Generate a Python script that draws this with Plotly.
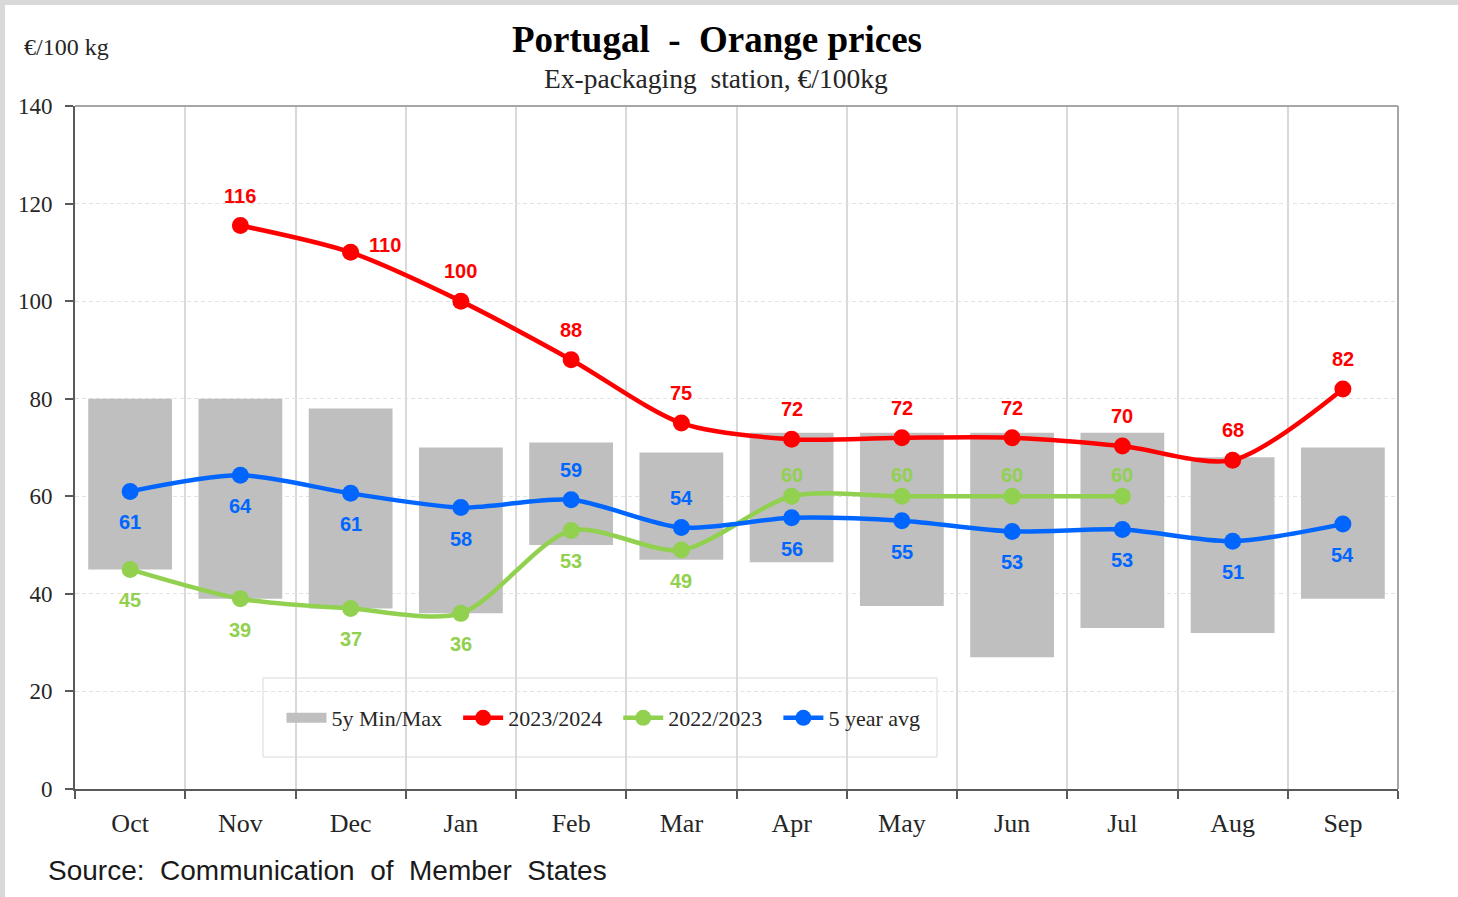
import plotly.graph_objects as go

months = ["Oct", "Nov", "Dec", "Jan", "Feb", "Mar", "Apr", "May", "Jun", "Jul", "Aug", "Sep"]
min5y = [45, 39, 37, 36, 50, 47, 46.5, 37.5, 27, 33, 32, 39]
max5y = [80, 80, 78, 70, 71, 69, 73, 73, 73, 73, 68, 70]
y2324 = [None, 115.5, 110, 100, 88, 75, 71.7, 72, 72, 70.3, 67.4, 82]
y2223 = [45, 39, 37, 36, 53, 49, 60, 60, 60, 60, None, None]
avg5 = [61, 64.3, 60.6, 57.7, 59.3, 53.6, 55.6, 55, 52.8, 53.2, 50.8, 54.3]
lbl2324 = [None, 116, 110, 100, 88, 75, 72, 72, 72, 70, 68, 82]
lbl2223 = [45, 39, 37, 36, 53, 49, 60, 60, 60, 60, None, None]
lblavg = [61, 64, 61, 58, 59, 54, 56, 55, 53, 53, 51, 54]
avg_above = [False, False, False, False, True, True, False, False, False, False, False, False]
g_above = [False, False, False, False, False, False, True, True, True, True, False, False]

RED = "#FF0000"
GREEN = "#92D050"
BLUE = "#0066FF"
GREY = "#BFBFBF"
SERIF = "Liberation Serif"
SANS = "Liberation Sans"

x = list(range(len(months)))

# plot area in pixels
L, R, T, B = 75, 1398, 106, 789
W, H = 1458, 897
PW, PH = R - L, B - T


def px(xp):
    return (xp - L) / PW


def py(yp):
    return (B - yp) / PH


NB = "\u00a0\u00a0"

fig = go.Figure()
fig.add_trace(go.Bar(x=x, y=[a - b for a, b in zip(max5y, min5y)], base=min5y,
                     marker=dict(color=GREY, line=dict(width=0)), width=0.76,
                     name="5y Min/Max", hoverinfo="skip", showlegend=False))
# legend entry for the min/max bars (wide grey block like the original)
fig.add_trace(go.Scatter(x=[None], y=[None], mode="lines", name="5y Min/Max" + NB,
                         line=dict(color=GREY, width=12)))

for name, ys, col in [("2023/2024", y2324, RED), ("2022/2023", y2223, GREEN), ("5 year avg", avg5, BLUE)]:
    fig.add_trace(go.Scatter(x=x, y=ys, mode="lines+markers", name=name + NB,
                             line=dict(color=col, width=4.5, shape="spline", smoothing=0.8),
                             marker=dict(color=col, size=17)))

LBL = 20
ann = []
for i in x:
    if y2324[i] is not None:
        xs, ys_ = (34, 7) if i == 2 else (0, 30)
        ann.append(dict(x=i, y=y2324[i], text=str(lbl2324[i]), xshift=xs, yshift=ys_,
                        font=dict(color=RED, size=LBL, family=SANS, weight="bold")))
    if y2223[i] is not None:
        ann.append(dict(x=i, y=y2223[i], text=str(lbl2223[i]), yshift=(21 if g_above[i] else -31),
                        font=dict(color=GREEN, size=LBL, family=SANS, weight="bold")))
    ann.append(dict(x=i, y=avg5[i], text=str(lblavg[i]), yshift=(30 if avg_above[i] else -31),
                    font=dict(color=BLUE, size=LBL, family=SANS, weight="bold")))
for a in ann:
    a.update(xref="x", yref="y", showarrow=False)

ann += [
    dict(xref="paper", yref="paper", x=px(717), y=py(40), yanchor="middle", text="<b>Portugal  -  Orange prices</b>",
         showarrow=False, font=dict(family=SERIF, size=37, color="#000000")),
    dict(xref="paper", yref="paper", x=px(716), y=py(78), yanchor="middle", text="Ex-packaging  station, €/100kg",
         showarrow=False, font=dict(family=SERIF, size=27.5, color="#262626")),
    dict(xref="paper", yref="paper", x=px(22), y=py(47), xanchor="left", yanchor="middle", text="€/100 kg",
         showarrow=False, font=dict(family=SERIF, size=24, color="#262626")),
    dict(xref="paper", yref="paper", x=px(46), y=py(870), xanchor="left", yanchor="middle",
         text="Source:  Communication  of  Member  States",
         showarrow=False, font=dict(family=SANS, size=28, color="#1a1a1a")),
]

shapes = [
    # grey frame top and left
    dict(type="rect", xref="paper", yref="paper", x0=px(0), x1=px(W), y0=py(5), y1=py(0),
         fillcolor="#D9D9D9", line=dict(width=0), layer="above"),
    dict(type="rect", xref="paper", yref="paper", x0=px(0), x1=px(5), y0=py(H), y1=py(0),
         fillcolor="#D9D9D9", line=dict(width=0), layer="above"),
    # top and right border of plot
    dict(type="line", xref="paper", yref="paper", x0=0, x1=1, y0=1, y1=1,
         line=dict(color="#A6A6A6", width=2), layer="above"),
    dict(type="line", xref="paper", yref="paper", x0=1, x1=1, y0=0, y1=1,
         line=dict(color="#A6A6A6", width=2), layer="above"),
    # legend box
    dict(type="rect", xref="paper", yref="paper", x0=px(263), x1=px(937), y0=py(757), y1=py(678),
         fillcolor="#FFFFFF", line=dict(color="#D9D9D9", width=1), layer="below"),
]

fig.update_layout(
    width=W, height=H,
    margin=dict(l=L, r=W - R, t=T, b=H - B),
    paper_bgcolor="#FFFFFF", plot_bgcolor="#FFFFFF",
    showlegend=True,
    legend=dict(orientation="h", x=px(609), y=py(718), xanchor="center", yanchor="middle",
                bgcolor="rgba(0,0,0,0)", borderwidth=0, traceorder="normal",
                font=dict(family=SERIF, size=22, color="#262626"), itemwidth=40),
    annotations=ann, shapes=shapes,
    bargap=0.24,
)
fig.update_xaxes(range=[-0.5, 11.5], tickvals=x, ticktext=months, ticks="", showgrid=False,
                 tickfont=dict(family=SERIF, size=26, color="#262626"),
                 showline=True, linecolor="#595959", linewidth=2, zeroline=False,
                 ticklabelstandoff=10,
                 minor=dict(tickmode="linear", tick0=-0.5, dtick=1, ticks="outside", ticklen=8,
                            tickcolor="#595959", tickwidth=2, showgrid=True,
                            gridcolor="#D9D9D9", gridwidth=1.5))
fig.update_yaxes(range=[0, 140], dtick=20, ticks="outside", ticklen=8, tickcolor="#595959", tickwidth=2,
                 showline=True, linecolor="#595959", linewidth=2, zeroline=False,
                 showgrid=True, gridcolor="#E3E3E3", gridwidth=1, griddash="4px,3px",
                 tickfont=dict(family=SERIF, size=23, color="#262626"), ticklabelstandoff=8)

fig.write_html("out.html", config={"displayModeBar": False},
               post_script="document.body.style.margin='0';document.body.style.padding='0';")
